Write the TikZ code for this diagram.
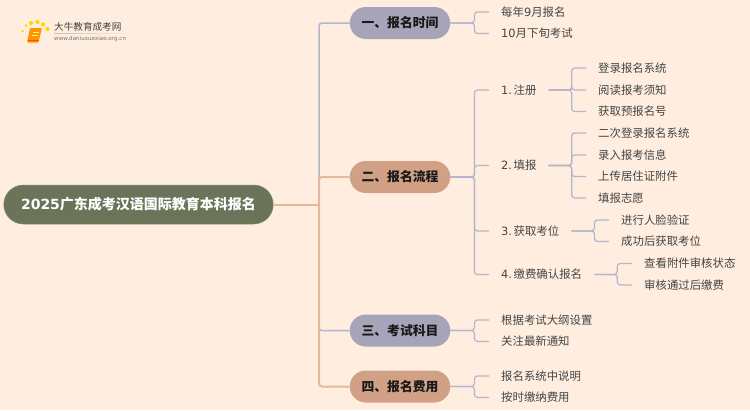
\documentclass[tikz,border=0pt]{standalone}
\usepackage{fontspec}
\usetikzlibrary{shapes.misc}
\setmainfont{Noto Sans CJK SC}
\newfontfamily\digitfont{DejaVu Sans}
\newcommand{\dg}[1]{{\digitfont #1}}
\definecolor{pagebg}{HTML}{FFEEE0}
\definecolor{rootfill}{HTML}{6B7358}
\definecolor{lavfill}{HTML}{A5A4B8}
\definecolor{salfill}{HTML}{D2A085}
\definecolor{lavline}{HTML}{B4B4CC}
\definecolor{salline}{HTML}{E3B8A0}
\definecolor{leaftext}{HTML}{444444}
\tikzset{
  rootnode/.style={rounded rectangle,fill=rootfill,draw=rootfill!80!white,line width=0.5pt,text=white,minimum width=269.5pt,minimum height=39pt,inner sep=0pt,text height=13.6pt,text depth=3pt,font=\fontsize{14}{16}\selectfont\bfseries},
  topic/.style={rounded rectangle,text=black!90,minimum width=100.5pt,minimum height=32pt,inner sep=0pt,text height=13pt,text depth=3.2pt,font=\fontsize{12.8}{15}\selectfont\bfseries},
  lavtopic/.style={topic,fill=lavfill},
  saltopic/.style={topic,fill=salfill},
  leaf/.style={anchor=west,inner xsep=12pt,inner ysep=0pt,text=leaftext,text height=10.6pt,text depth=2pt,font=\fontsize{11.4}{13}\selectfont},
  lavlink/.style={draw=lavline,line width=1.5pt,rounded corners=3pt},
  sallink/.style={draw=salline,line width=2pt,rounded corners=3pt},
  twig/.style={draw=lavline,line width=1.2pt,rounded corners=3pt},
  sundot/.style={circle,fill=#1,inner sep=0pt,minimum size=4.2pt}
}
\begin{document}
\begin{tikzpicture}[x=1pt,y=-1pt]
  \fill[pagebg] (0,0) rectangle (750,410);
  \useasboundingbox (0,0) rectangle (750,410);

  % logo
  \node[sundot=yellow!75!orange] (s1) at (47.5,29) {};
  \node[sundot=yellow!75!orange] (s2) at (43,24.5) {};
  \node[sundot=yellow!75!orange] (s3) at (37.5,22) {};
  \node[sundot=yellow!75!orange] (s4) at (31,23) {};
  \node[sundot=yellow!75!orange,minimum size=3pt] (s5) at (26,25.5) {};
  \node[sundot=yellow!75!orange,minimum size=2.6pt] (s6) at (22.5,31) {};
  \node[sundot=yellow!60!white,minimum size=2pt] (s7) at (23,37) {};
  \node[sundot=yellow!50!white,minimum size=1.6pt] (s8) at (24,42) {};
  \fill[orange!85!yellow,rounded corners=1pt] (30,28) -- (42,28) -- (38.5,42.5) -- (27,42.5) -- cycle;
  \draw[yellow!60!white,line width=0.8pt] (32.5,32) -- (38.5,32) (32,35) -- (37.5,35);
  \draw[orange!60!red,line width=0.7pt] (27.5,40.5) -- (38.5,40.5);
  \node[anchor=west,inner sep=0pt,text=black!75,font=\fontsize{9.6}{11}\selectfont] (brand) at (54,27) {大牛教育成考网};
  \node[anchor=west,inner sep=0pt,text=black!55,font=\fontsize{5.6}{7}\selectfont] (site) at (54,39) {\digitfont www.daniuxuexiao.org.cn};
  \shade[left color=black!25,right color=pagebg] (54,33.2) rectangle (132,33.8);

  \node[rootnode] (root) at (138.5,204.5) {\dg{2025}广东成考汉语国际教育本科报名};
  \coordinate (hub) at (319,204.5);

  \node[lavtopic] (t1) at (400,23) {一、报名时间};
  \node[saltopic] (t2) at (400,177) {二、报名流程};
  \node[lavtopic] (t3) at (400,330.5) {三、考试科目};
  \node[saltopic] (t4) at (400,386.5) {四、报名费用};

  \node[leaf] (a1) at (489,12) {每年\dg{9}月报名};
  \node[leaf] (a2) at (489,33.5) {\dg{10}月下旬考试};

  \node[leaf] (b1) at (489,90) {\dg{1.}\hspace{1.6pt}注册};
  \node[leaf] (b2) at (489,165.5) {\dg{2.}\hspace{1.6pt}填报};
  \node[leaf] (b3) at (489,231) {\dg{3.}\hspace{1.6pt}获取考位};
  \node[leaf] (b4) at (489,274.5) {\dg{4.}\hspace{1.6pt}缴费确认报名};

  \node[leaf] (c1) at (586,68) {登录报名系统};
  \node[leaf] (c2) at (586,90) {阅读报考须知};
  \node[leaf] (c3) at (586,111.5) {获取预报名号};
  \node[leaf] (d1) at (586,133) {二次登录报名系统};
  \node[leaf] (d2) at (586,155) {录入报考信息};
  \node[leaf] (d3) at (586,176.5) {上传居住证附件};
  \node[leaf] (d4) at (586,198) {填报志愿};
  \node[leaf] (e1) at (609,220) {进行人脸验证};
  \node[leaf] (e2) at (609,241.5) {成功后获取考位};
  \node[leaf] (f1) at (632,263.5) {查看附件审核状态};
  \node[leaf] (f2) at (632,285) {审核通过后缴费};

  \node[leaf] (g1) at (489,320) {根据考试大纲设置};
  \node[leaf] (g2) at (489,341.5) {关注最新通知};
  \node[leaf] (h1) at (489,376) {报名系统中说明};
  \node[leaf] (h2) at (489,397.5) {按时缴纳费用};

  % main branches
  \draw[lavlink] (hub) |- (t1.west);
  \draw[lavlink] (hub) |- (t3.west);
  \draw[sallink] (root.east) -- (hub);
  \draw[sallink] (hub) |- (t2.west);
  \draw[sallink] (hub) |- (t4.west);

  \foreach \from/\to in {t1/a1,t1/a2,t2/b1,t2/b2,t2/b3,t2/b4,t3/g1,t3/g2,t4/h1,t4/h2}
    \draw[twig] (\from.east) -- ++(24,0) |- (\to.west);
  \foreach \from/\to in {b1/c1,b1/c2,b1/c3,b2/d1,b2/d2,b2/d3,b2/d4,b3/e1,b3/e2,b4/f1,b4/f2}
    \draw[twig] (\from.east) -- ++(23,0) |- (\to.west);
\end{tikzpicture}
\end{document}
